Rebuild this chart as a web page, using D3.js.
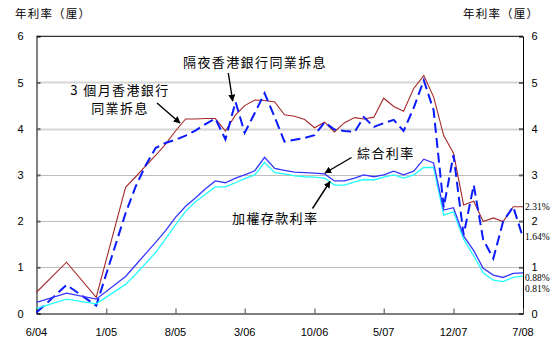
<!DOCTYPE html>
<html>
<head>
<meta charset="utf-8">
<script src="https://cdn.jsdelivr.net/npm/d3@7"></script>
<style>
  html, body { margin: 0; padding: 0; background: #fff; }
  svg { display: block; }
  .zh { font-family: "Noto Sans CJK TC", "Noto Sans CJK SC", sans-serif; }
  .num { font-family: "Liberation Sans", Arial, sans-serif; }
  .pct { font-family: "Liberation Serif", "Times New Roman", serif; }
</style>
</head>
<body>
<svg id="chart" width="559" height="348"></svg>
<script>
// Month of each observation (quarterly to early 2005, monthly afterwards)
const months = [
  "2004-06","2004-09","2004-12",
  "2005-03","2005-04","2005-05","2005-06","2005-07","2005-08","2005-09","2005-10","2005-11","2005-12",
  "2006-01","2006-02","2006-03","2006-04","2006-05","2006-06","2006-07","2006-08","2006-09","2006-10","2006-11","2006-12",
  "2007-01","2007-02","2007-03","2007-04","2007-05","2007-06","2007-07","2007-08","2007-09","2007-10","2007-11","2007-12",
  "2008-01","2008-02","2008-03","2008-04","2008-05","2008-06","2008-07"
];

// 3-month HIBOR
const hibor3m = [0.46, 1.11, 0.35,
  2.73, 2.96, 3.19, 3.42, 3.66, 3.95, 4.21, 4.21, 4.22, 4.22,
  3.95, 4.30, 4.50, 4.62, 4.61, 4.58, 4.30, 4.27, 4.20, 4.02, 4.14, 3.93,
  4.13, 4.24, 4.21, 4.25, 4.66, 4.48, 4.38, 4.87, 5.15, 4.69, 3.85, 3.47,
  2.35, 2.43, 1.99, 2.07, 1.99, 2.31, 2.31];

// Overnight HIBOR
const hiborON = [0.02, 0.62, 0.17,
  2.17, 2.75, 3.20, 3.58, 3.69, 3.76, 3.85, 3.96, 4.10, 4.22,
  3.77, 4.58, 3.91, 4.34, 4.77, 4.25, 3.72, 3.76, 3.80, 3.86, 4.14, 3.98,
  3.95, 3.93, 4.25, 4.04, 4.12, 4.19, 3.95, 4.45, 5.05, 4.40, 2.30, 3.43,
  1.70, 2.78, 1.60, 1.19, 1.99, 2.31, 1.64];

// Composite interest rate
const composite = [0.24, 0.44, 0.31,
  0.80, 1.05, 1.29, 1.54, 1.79, 2.08, 2.32, 2.50, 2.70, 2.87,
  2.83, 2.93, 3.00, 3.09, 3.38, 3.14, 3.10, 3.06, 3.05, 3.04, 3.02, 2.87,
  2.87, 2.93, 3.00, 2.96, 3.00, 3.08, 3.00, 3.08, 3.34, 3.26, 2.24, 2.29,
  1.68, 1.36, 0.98, 0.83, 0.78, 0.87, 0.88];

// Weighted deposit rate
const deposit = [0.11, 0.31, 0.21,
  0.63, 0.85, 1.08, 1.32, 1.61, 1.92, 2.21, 2.42, 2.58, 2.74,
  2.74, 2.83, 2.92, 3.00, 3.27, 3.05, 3.02, 2.98, 2.96, 2.95, 2.93, 2.78,
  2.78, 2.85, 2.90, 2.89, 2.95, 3.00, 2.93, 3.00, 3.16, 3.16, 2.13, 2.20,
  1.61, 1.25, 0.88, 0.72, 0.69, 0.78, 0.81];

const xTickMonths = ["2004-06","2005-01","2005-08","2006-03","2006-10","2007-05","2007-12","2008-07"];
const xTickLabels = ["6/04","1/05","8/05","3/06","10/06","5/07","12/07","7/08"];
const yTicks = [0, 1, 2, 3, 4, 5, 6];
const axisTitle = "年利率（厘）";

const parse = d3.utcParse("%Y-%m");
const dates = months.map(parse);

const svg = d3.select("#chart");
const W = 559, H = 348;
const plot = { left: 36.5, right: 523, top: 36.3, bottom: 313.5 };

const x = d3.scaleUtc()
  .domain([parse("2004-06"), parse("2008-07")])
  .range([plot.left, plot.right]);
const y = d3.scaleLinear().domain([0, 6]).range([plot.bottom, plot.top]);

// Horizontal gridlines
svg.append("g").selectAll("line")
  .data(yTicks.filter(v => v > 0 && v < 6))
  .join("line")
  .attr("x1", plot.left).attr("x2", plot.right)
  .attr("y1", d => Math.round(y(d)) + 0.5).attr("y2", d => Math.round(y(d)) + 0.5)
  .attr("stroke", d => d >= 4 ? "#d6d6d6" : "#bdbdbd")
  .attr("stroke-width", d => d >= 4 ? 2 : 1);

// Y axes (left and right), ticks pointing inward
const yLeft = d3.axisRight(y).tickValues(yTicks).tickSize(4).tickFormat("");
const yRight = d3.axisLeft(y).tickValues(yTicks).tickSize(4).tickFormat("");
const gl = svg.append("g").attr("transform", `translate(${plot.left},0)`).call(yLeft);
const gr = svg.append("g").attr("transform", `translate(${plot.right},0)`).call(yRight);
[gl, gr].forEach(g => {
  g.select(".domain").attr("stroke", "#000");
  g.selectAll(".tick line").attr("stroke", "#666").attr("stroke-width", 2);
});

// X axis, ticks pointing up into the plot
const xAxis = d3.axisTop(x).tickValues(xTickMonths.map(parse)).tickSize(5).tickFormat("");
const gx = svg.append("g").attr("transform", `translate(0,${plot.bottom})`).call(xAxis);
gx.select(".domain").attr("stroke", "#000");
gx.selectAll(".tick line").attr("stroke", "#444");

// Top border
svg.append("line")
  .attr("x1", plot.left).attr("x2", plot.right)
  .attr("y1", plot.top).attr("y2", plot.top)
  .attr("stroke", "#000");

// Tick labels
svg.append("g").selectAll("text")
  .data(xTickMonths)
  .join("text")
  .attr("class", "num")
  .attr("x", d => x(parse(d)))
  .attr("y", 335.5)
  .attr("text-anchor", "middle")
  .attr("font-size", 11)
  .text((d, i) => xTickLabels[i]);

svg.append("g").selectAll("text")
  .data(yTicks)
  .join("text")
  .attr("class", "num")
  .attr("x", 20.5)
  .attr("y", d => y(d) + 4)
  .attr("text-anchor", "middle")
  .attr("font-size", 11)
  .text(d => d);

svg.append("g").selectAll("text")
  .data(yTicks)
  .join("text")
  .attr("class", "num")
  .attr("x", 534.5)
  .attr("y", d => y(d) + 4)
  .attr("text-anchor", "middle")
  .attr("font-size", 11)
  .text(d => d);

// Axis titles
svg.append("text").attr("class", "zh")
  .attr("x", 15).attr("y", 17.5)
  .attr("font-size", 11.5).attr("letter-spacing", 1.2)
  .text(axisTitle);
svg.append("text").attr("class", "zh")
  .attr("x", 463).attr("y", 17.5)
  .attr("font-size", 11.5).attr("letter-spacing", 1.2)
  .text(axisTitle);

// Series lines
const line = vals => d3.line()
  .x((d, i) => x(dates[i]))
  .y(d => y(d))(vals);

svg.append("path").attr("d", line(hibor3m))
  .attr("fill", "none").attr("stroke", "#a52a2a").attr("stroke-width", 1.1);
svg.append("path").attr("d", line(hiborON))
  .attr("fill", "none").attr("stroke", "#0a1aff").attr("stroke-width", 2)
  .attr("stroke-dasharray", "10,5");
svg.append("path").attr("d", line(deposit))
  .attr("fill", "none").attr("stroke", "#22ffff").attr("stroke-width", 1.3);
svg.append("path").attr("d", line(composite))
  .attr("fill", "none").attr("stroke", "#3535ff").attr("stroke-width", 1.3);

// Latest-value labels on the right edge
const endLabels = [
  { vals: hibor3m, dy: 0 },
  { vals: hiborON, dy: -1 },
  { vals: composite, dy: 4.5 },
  { vals: deposit, dy: 12 }
];
svg.append("g").selectAll("text")
  .data(endLabels)
  .join("text")
  .attr("class", "pct")
  .attr("x", 525)
  .attr("y", d => y(d.vals[d.vals.length - 1]) + d.dy + 3.5)
  .attr("font-size", 9.5)
  .text(d => d.vals[d.vals.length - 1].toFixed(2) + "%");

// Arrowhead marker
svg.append("defs").append("marker")
  .attr("id", "arrow")
  .attr("viewBox", "0 0 10 10")
  .attr("refX", 9).attr("refY", 5)
  .attr("markerWidth", 7).attr("markerHeight", 7)
  .attr("markerUnits", "userSpaceOnUse")
  .attr("orient", "auto")
  .append("path").attr("d", "M0,0 L10,5 L0,10 z").attr("fill", "#000");

// Series annotations with pointer arrows
const notes = [
  { lines: ["隔夜香港銀行同業拆息"], x: 183, y: 67, from: [228.3, 73], to: [232.7, 101] },
  { lines: ["3 個月香港銀行", "同業拆息"], x: 120, y: 94.5, anchor: "middle", from: [157, 103], to: [180, 123] },
  { lines: ["綜合利率"], x: 357, y: 158, from: [351.5, 157.5], to: [325, 173] },
  { lines: ["加權存款利率"], x: 232, y: 223, from: [312.5, 208.5], to: [330, 181.5] }
];
notes.forEach(n => {
  const t = svg.append("text").attr("class", "zh")
    .attr("font-size", 13).attr("letter-spacing", 1.4)
    .attr("text-anchor", n.anchor || "start");
  n.lines.forEach((s, i) => {
    t.append("tspan").attr("x", n.x).attr("y", n.y + i * 18).text(s);
  });
  svg.append("line")
    .attr("x1", n.from[0]).attr("y1", n.from[1])
    .attr("x2", n.to[0]).attr("y2", n.to[1])
    .attr("stroke", "#000").attr("stroke-width", 1.4)
    .attr("marker-end", "url(#arrow)");
});
</script>
</body>
</html>
